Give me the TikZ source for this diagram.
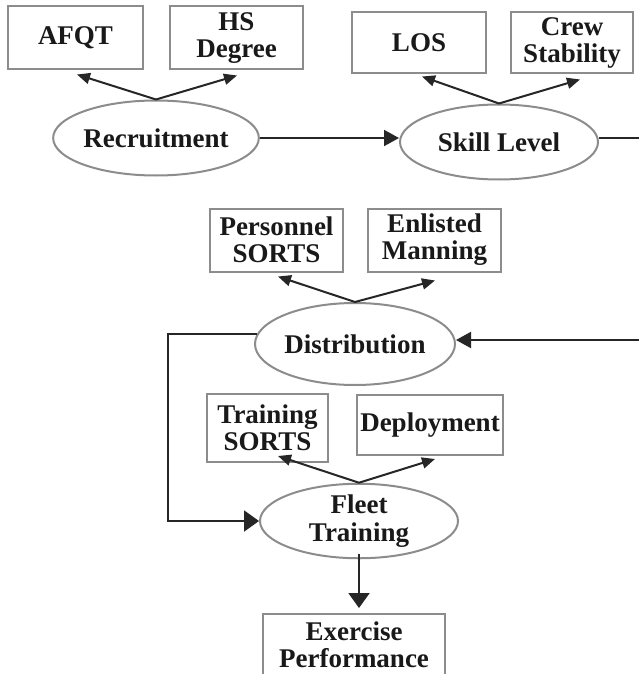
\documentclass[tikz,border=0pt]{standalone}
\usepackage{fontspec}
\setmainfont{Liberation Serif}
\usetikzlibrary{shapes.geometric,arrows.meta}
\begin{document}
\begin{tikzpicture}[x=1pt,y=-1pt,
  every node/.style={font=\fontsize{27}{27}\selectfont\bfseries, text=black!90, align=center, inner sep=0pt},
  factor/.style={draw=black!45, line width=2pt, rectangle},
  process/.style={draw=black!45, line width=2pt, ellipse},
  link/.style={draw=black!85, line width=2pt},
  small/.style={link, -{Triangle[length=13pt,width=11pt]}},
  flow/.style={link, -{Triangle[length=15pt,width=16pt]}},
  big/.style={link, -{Triangle[length=15pt,width=21pt]}}]
\useasboundingbox (0,0) rectangle (639,674);
\clip (0,0) rectangle (639,674);
\fill[white] (0,0) rectangle (639,674);

% top row: recruitment and skill level
\node[factor, minimum width=135pt, minimum height=63pt] (afqt) at (75.5,38) {AFQT};
\node[factor, minimum width=133pt, minimum height=63pt] (hs) at (236.5,38) {HS\\Degree};
\node[process, minimum width=202pt, minimum height=75pt] (recr) at (156,138) {Recruitment};

\node[factor, minimum width=134pt, minimum height=61pt] (los) at (419,43) {LOS};
\node[factor, minimum width=122pt, minimum height=61pt] (crew) at (572,43) {Crew\\Stability};
\node[process, minimum width=198pt, minimum height=75pt] (skill) at (499,142) {Skill Level};

% middle: distribution
\node[factor, minimum width=133pt, minimum height=63pt] (psorts) at (276.5,240) {Personnel\\SORTS};
\node[factor, minimum width=133pt, minimum height=63pt] (enl) at (434.5,240) {Enlisted\\Manning};
\node[process, minimum width=200pt, minimum height=82pt] (dist) at (355,344) {Distribution};

% lower: fleet training
\node[factor, minimum width=121pt, minimum height=68pt] (tsorts) at (267.5,428) {Training\\SORTS};
\node[factor, minimum width=146pt, minimum height=60pt] (depl) at (430,425) {Deployment};
\node[process, minimum width=198pt, minimum height=74pt, font=\fontsize{27}{28}\selectfont\bfseries] (fleet) at (359,521) {Fleet\\Training};

\node[factor, minimum width=182pt, minimum height=62pt, anchor=north] (exer) at (354,613) {Exercise\\Performance};

% attribute arrows
\draw[small] (recr.north) -- ([shift={(1.5,4)}]afqt.south);
\draw[small] (recr.north) -- ([shift={(0.5,5)}]hs.south);
\draw[small] (skill.north) -- ([shift={(3,2)}]los.south);
\draw[small] (skill.north) -- ([shift={(8,5)}]crew.south);
\draw[small] (dist.north) -- ([shift={(1.5,4)}]psorts.south);
\draw[small] (dist.north) -- ([shift={(0.5,8)}]enl.south);
\draw[small] (fleet.north) -- ([shift={(10.5,-7)}]tsorts.south);
\draw[small] (fleet.north) -- ([shift={(5,3)}]depl.south);

% process flow
\draw[flow] (recr.east) -- (recr.east -| skill.west);
\draw[link] ([yshift=4pt]skill.east) -- ++(70,0) coordinate (outR);
\draw[flow] (outR |- 0,340) coordinate (inR) -- (dist.east |- inR);
\draw[link] (outR) -- (inR);
\coordinate (loopL) at (168,334);
\draw[big] ([xshift=3pt]dist.west |- loopL) -- (loopL) |- (fleet.west);
\draw[big] ([yshift=5pt]fleet.south) -- ([yshift=5pt]fleet.south |- exer.north);
\end{tikzpicture}
\end{document}
